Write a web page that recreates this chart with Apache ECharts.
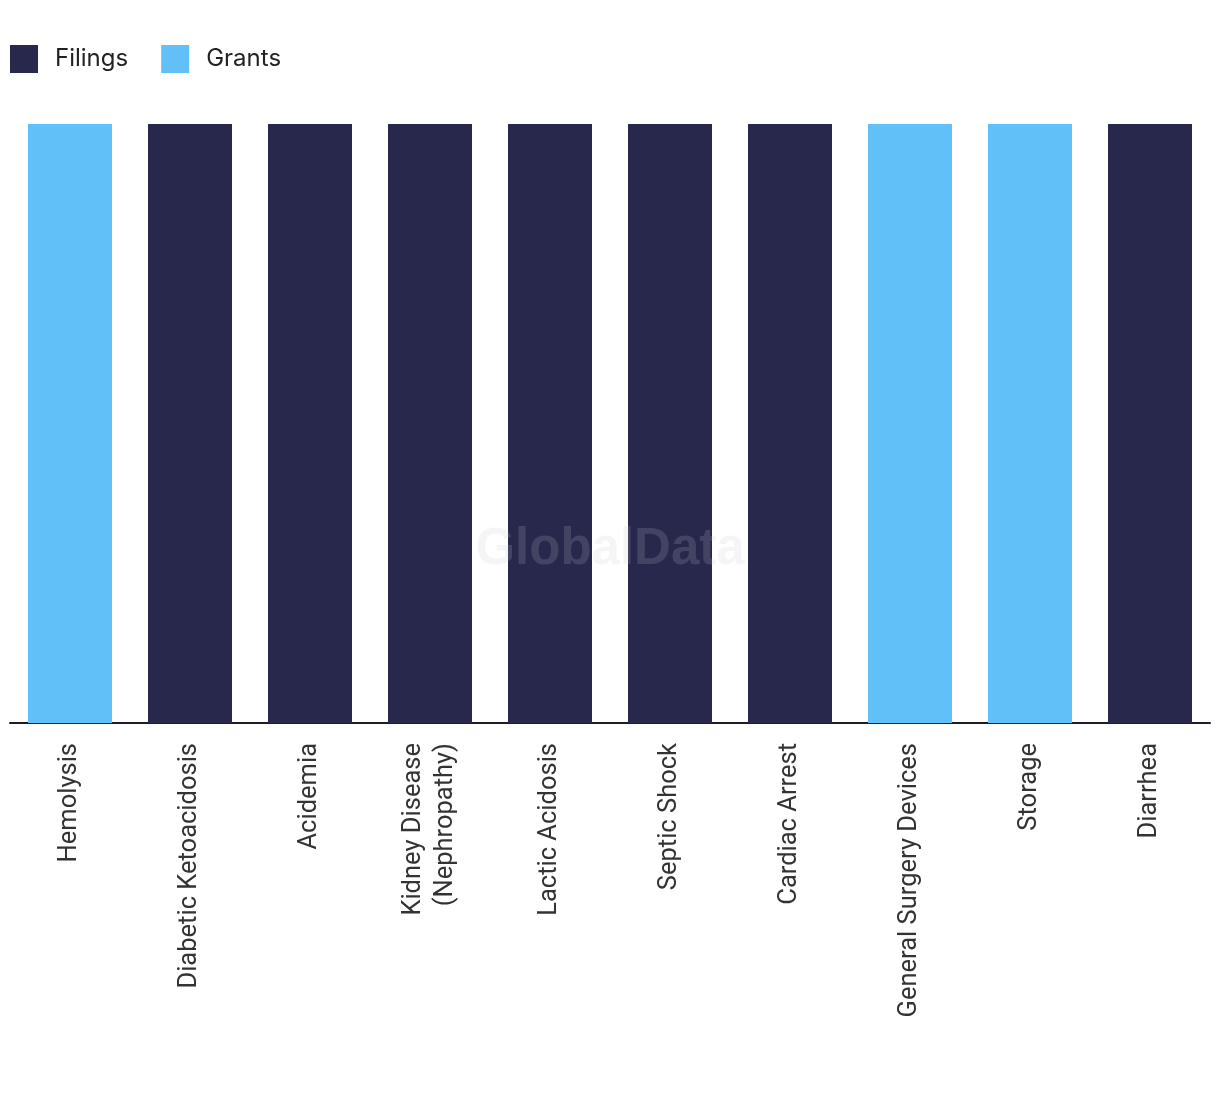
<!DOCTYPE html>
<html><head><meta charset="utf-8">
<script src="https://cdn.jsdelivr.net/npm/echarts@6/dist/echarts.min.js"></script>
<style>html,body{margin:0;padding:0;background:#fff}#c{width:1220px;height:1094px}</style>
</head><body><div id="c"></div>
<script>
const categories = ["Hemolysis","Diabetic Ketoacidosis","Acidemia","Kidney Disease\n(Nephropathy)","Lactic Acidosis","Septic Shock","Cardiac Arrest","General Surgery Devices","Storage","Diarrhea"];
const filings = [0,1,1,1,1,1,1,0,0,1];
const grants  = [1,0,0,0,0,0,0,1,1,0];

const chart = echarts.init(document.getElementById('c'), null, {renderer:'canvas'});
chart.setOption({
  animation:false,
  legend:{
    left:10, top:45, padding:0, itemWidth:28, itemHeight:28, itemGap:33,
    icon:'rect',
    textStyle:{fontFamily:'Inter', fontSize:24, color:'#222', padding:[0,0,0,12]},
    data:['Filings','Grants']
  },
  grid:{left:10,right:10,top:124,bottom:371},
  xAxis:{
    type:'category', data:categories,
    axisLine:{lineStyle:{color:'#1b1b2e',width:2}},
    axisTick:{show:false},
    axisLabel:{rotate:90, margin:20, interval:0, fontFamily:'Roboto', fontSize:25.5, color:'#333', lineHeight:32,
      backgroundColor:'rgba(0,0,0,0)', padding:[6,0,0,0]}
  },
  yAxis:{type:'value', min:0, max:1, show:false},
  graphic:[{type:'text', left:'center', top:524, z:100,
    style:{text:'GlobalData', fontFamily:'Liberation Sans', fontWeight:'bold', fontSize:51, fill:'rgba(200,200,210,0.18)'}}],
  series:[
    {name:'Filings', type:'bar', stack:'a', data:filings, barCategoryGap:'30%', itemStyle:{color:'#27284b'}},
    {name:'Grants', type:'bar', stack:'a', data:grants, barCategoryGap:'30%', itemStyle:{color:'#62c0f8'}}
  ]
});
</script></body></html>
